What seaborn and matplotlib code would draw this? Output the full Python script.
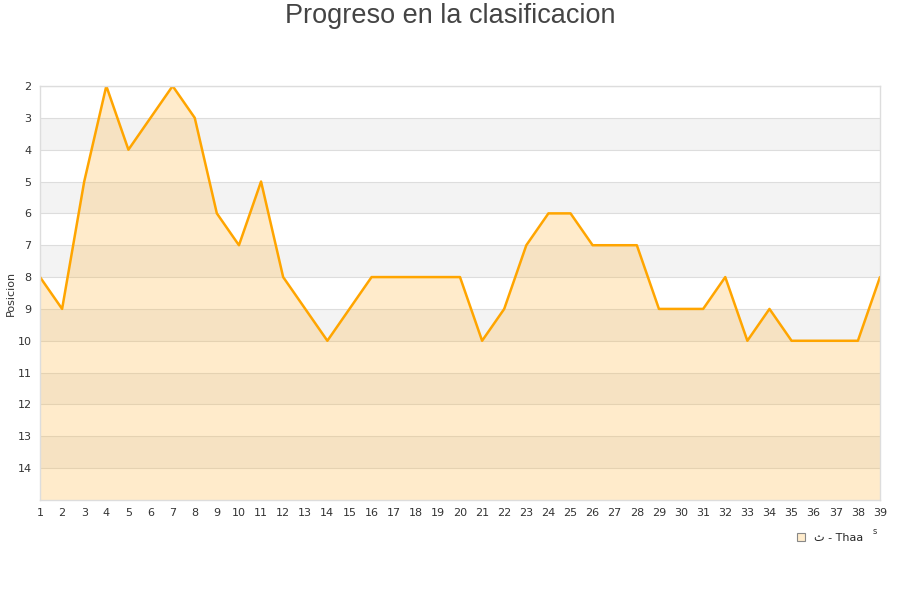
import pandas as pd
import numpy as np
import seaborn as sns
import matplotlib.pyplot as plt
from matplotlib.patches import Patch

# Jornada / posicion
jornadas = list(range(1, 40))
posicion = [8, 9, 5, 2, 4, 3, 2, 3, 6, 7, 5, 8, 9, 10, 9, 8, 8, 8, 8, 8,
            10, 9, 7, 6, 6, 7, 7, 7, 9, 9, 9, 8, 10, 9, 10, 10, 10, 10, 8]
y_ticks = list(range(2, 15))
team = "ث - Thaa"

df = pd.DataFrame({"Jornada": jornadas, "Posicion": posicion})

sns.set_style("white")
plt.rcParams['font.family'] = ['DejaVu Sans']

fig = plt.figure(figsize=(9, 6), dpi=100)
ax = fig.add_axes([40 / 900, 100 / 600, 840 / 900, 414 / 600])

# alternating bands
for y in range(2, 15):
    if y % 2 == 1:
        ax.axhspan(y, y + 1, color="#f3f3f3", zorder=0, lw=0)
    ax.axhline(y, color="#dddddd", lw=0.8, zorder=0.5)

ax.fill_between(df["Jornada"], df["Posicion"], 15, color="#ffb333", alpha=0.25,
                lw=0, zorder=1)
sns.lineplot(data=df, x="Jornada", y="Posicion", color="#ffa500", lw=1.8,
             ax=ax, zorder=2)

ax.set_xlim(1, 39)
ax.set_ylim(15, 2)
ax.set_xticks(jornadas)
ax.set_yticks(y_ticks)
ax.tick_params(axis="both", labelsize=8, colors="#333333", length=0, pad=6)
ax.set_xlabel("")
ax.set_ylabel("")
fig.text(11 / 900, 1 - 293 / 600, "Posicion", rotation=90, fontsize=8,
         color="#333333", ha="center", va="center")
for s in ax.spines.values():
    s.set_color("#dddddd")
    s.set_linewidth(1)

fig.text(0.5, 1 - 16 / 600, "Progreso en la clasificacion", ha="center", va="center",
         fontsize=19.5, color="#444444", family=["Liberation Sans", "DejaVu Sans"])
fig.text(875 / 900, 1 - 531 / 600, "s", fontsize=6, color="#333333",
         ha="center", va="center")

handles = [Patch(facecolor="#ffeccc", edgecolor="#888888", lw=0.8, label=team)]
fig.legend(handles=handles, loc="center", bbox_to_anchor=(830 / 900, 1 - 538 / 600),
           frameon=False, fontsize=8, handlelength=0.7, handleheight=0.7,
           handletextpad=0.8)

fig.savefig("out.png", dpi=100)
